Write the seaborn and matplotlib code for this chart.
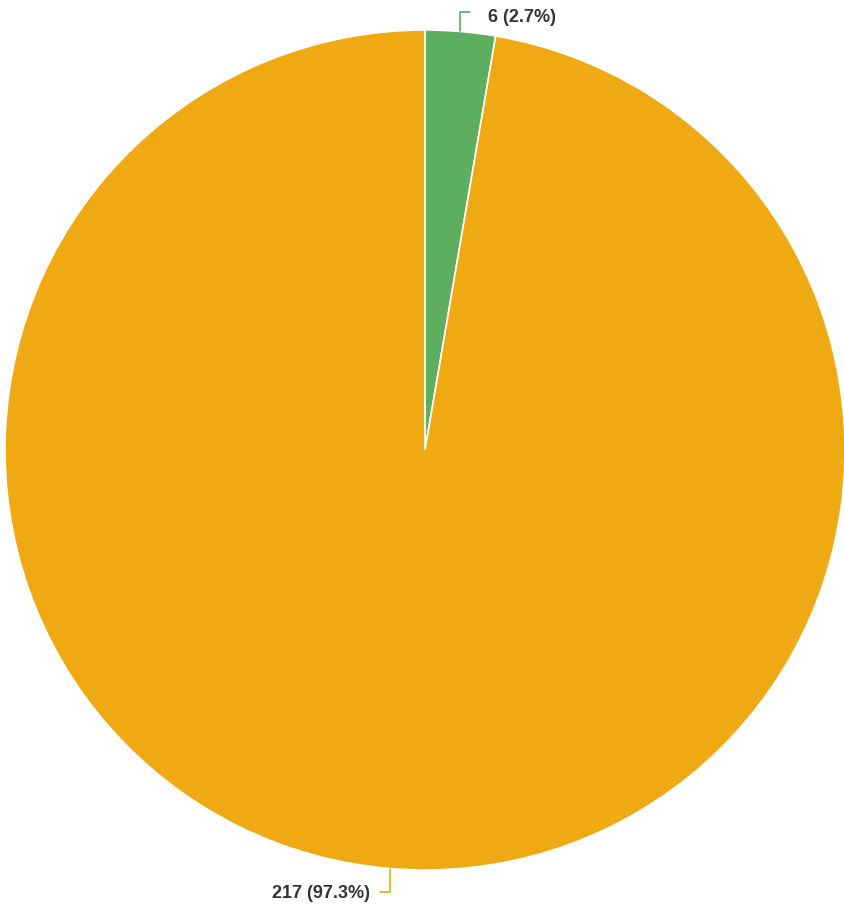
import numpy as np
import matplotlib
matplotlib.use("Agg")
import matplotlib.pyplot as plt
import seaborn as sns

# data
categories = ["A", "B"]
counts = [6, 217]
labels = ["6 (2.7%)", "217 (97.3%)"]
colors = ["#5dae5f", "#efa913"]

sns.set_theme(style="white")
plt.rcParams["font.family"] = ["Liberation Sans", "DejaVu Sans"]

W, H = 845, 909
fig = plt.figure(figsize=(W / 100, H / 100), dpi=100)
fig.patch.set_facecolor("white")

# pie centre (425, 450) px, radius 420 px
cx, cy, r = 425, 450, 420
ax = fig.add_axes([(cx - r) / W, (H - cy - r) / H, 2 * r / W, 2 * r / H])

wedges, _ = ax.pie(counts, colors=colors, startangle=90, counterclock=False,
                   radius=1, wedgeprops=dict(linewidth=1.2, edgecolor="white"))
ax.set_xlim(-1, 1)
ax.set_ylim(-1, 1)
ax.set_aspect("auto")
ax.axis("off")


def px(x, y):
    return (x - cx) / r, (cy - y) / r


total = sum(counts)
start = 90.0
for w, lab, col, n in zip(wedges, labels, colors, counts):
    span = 360.0 * n / total
    mid = np.deg2rad(start - span / 2)
    start -= span
    x0, y0 = np.cos(mid), np.sin(mid)
    if y0 > 0:
        bend = (x0, px(0, 12)[1])
        end = (px(470, 0)[0], bend[1])
        tx, ha = px(488, 0)[0], "left"
        ty = px(0, 17)[1]
    else:
        bend = (x0, px(0, 892)[1])
        end = (px(380, 0)[0], bend[1])
        tx, ha = px(370, 0)[0], "right"
        ty = px(0, 893)[1]
    ax.plot([x0, bend[0], end[0]], [y0, bend[1], end[1]], color=col, lw=1.2,
            clip_on=False, solid_joinstyle="round")
    ax.text(tx, ty, lab, ha=ha, va="center", fontsize=13,
            fontweight="bold", color="#333333", clip_on=False)

fig.savefig("out.png", dpi=100, facecolor="white")
